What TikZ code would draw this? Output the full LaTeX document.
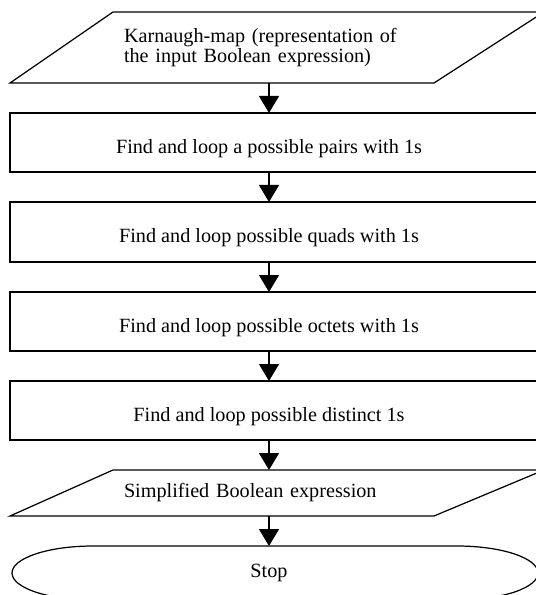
\documentclass[tikz,border=0pt]{standalone}
\usepackage{fontspec}
\setmainfont{Liberation Serif}
\usetikzlibrary{arrows.meta,positioning}

\begin{document}
\begin{tikzpicture}[node distance=0.6cm, line width=0.7pt,
		font=\fontsize{11.5}{11.5}\selectfont,
		base/.style={inner sep=0pt, outer sep=0pt, minimum width=10.36cm},
		stepbox/.style={base, minimum height=1.18cm, text height=12pt, text depth=0pt,
			append after command={\pgfextra{\draw (\tikzlastnode.south west) rectangle ([xshift=0.4cm]\tikzlastnode.north east);}}},
		iobox/.style={base, text width=5.8cm, align=left,
			append after command={\pgfextra{\draw (\tikzlastnode.south west) -- ([xshift=2.06cm]\tikzlastnode.north west) -- ([xshift=0.32cm]\tikzlastnode.north east) -- ([xshift=-1.88cm]\tikzlastnode.south east) -- cycle;}}},
		stopbox/.style={base, minimum height=1.08cm,
			append after command={\pgfextra{\draw ([xshift=-3.52cm]\tikzlastnode.north) -- ([xshift=3.76cm]\tikzlastnode.north) arc[start angle=90, end angle=-90, x radius=1.62cm, y radius=0.54cm] -- ([xshift=-3.52cm]\tikzlastnode.south) arc[start angle=270, end angle=90, x radius=1.62cm, y radius=0.54cm] -- cycle;}}},
		flow/.style={-{Triangle[width=0.4cm,length=0.34cm]}}]
			\useasboundingbox (0,0) rectangle (10.72,-11.9);
			\clip (0,0) rectangle (10.72,-11.9);

			\node[iobox, minimum height=1.42cm] (kmap) at (5.38,-0.95) {Karnaugh-map (representation of\\the input Boolean expression)};
			\node[stepbox, below=of kmap] (pairs) {Find and loop a possible pairs with 1s};
			\node[stepbox, minimum height=1.2cm, below=of pairs] (quads) {Find and loop possible quads with 1s};
			\node[stepbox, below=of quads] (octets) {Find and loop possible octets with 1s};
			\node[stepbox, below=of octets] (single) {Find and loop possible distinct 1s};
			\node[iobox, minimum height=0.92cm, below=of single] (result) {Simplified Boolean expression};
			\node[stopbox, below=of result] (stop) {Stop};

			\draw[flow] (kmap) -- (pairs);
			\draw[flow] (pairs) -- (quads);
			\draw[flow] (quads) -- (octets);
			\draw[flow] (octets) -- (single);
			\draw[flow] (single) -- (result);
			\draw[flow] (result) -- (stop);
		\end{tikzpicture}
\end{document}
